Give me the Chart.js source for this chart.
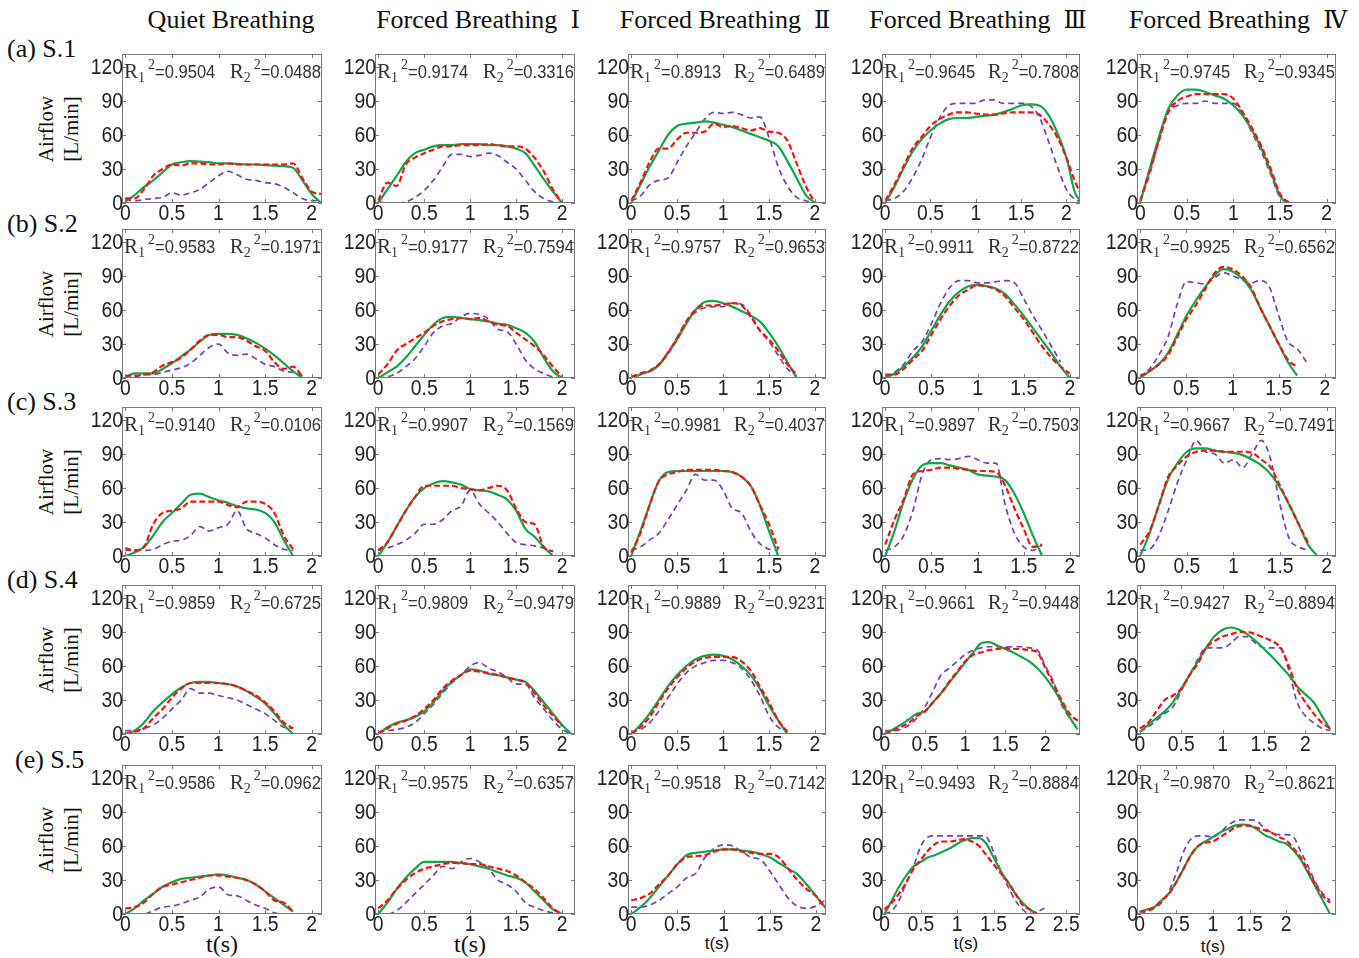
<!DOCTYPE html>
<html>
<head>
<meta charset="utf-8">
<script src="https://cdn.jsdelivr.net/npm/chart.js@4.4.1/dist/chart.umd.min.js"></script>
<style>
  body { margin: 0; background: #fff; width: 1359px; height: 958px; position: relative; overflow: hidden; }
  .lbl { position: absolute; white-space: nowrap; color: #111; font-family: 'Liberation Serif', 'Times New Roman', serif; transform: translate(-50%, -50%); }
  .rn { font-family: 'DejaVu Serif', serif; font-size: 24px; }
  canvas { position: absolute; }
</style>
</head>
<body>
<script>
// sampling step of every series (s)
const STEP = 0.1;

const columnTitles = ['Quiet Breathing', 'Forced Breathing', 'Forced Breathing', 'Forced Breathing', 'Forced Breathing'];
const columnNumerals = ['', '\u2160', '\u2161', '\u2162', '\u2163'];
const rowLabels = ['(a) S.1', '(b) S.2', '(c) S.3', '(d) S.4', '(e) S.5'];
const yTicks = [0, 30, 60, 90, 120];
const xTicksShort = [0, 0.5, 1, 1.5, 2];
const xTicksLong = [0, 0.5, 1, 1.5, 2, 2.5];

// x axis end per panel (rows S.1..S.5, columns quiet..FB IV)
const xMaxS1 = [2.11, 2.14, 2.12, 2.15, 2.1];
const xMaxS2 = [2.11, 2.14, 2.12, 2.11, 2.12];
const xMaxS3 = [2.11, 2.14, 2.12, 2.11, 2.1];
const xMaxS4 = [2.11, 2.14, 2.12, 2.43, 2.37];
const xMaxS5 = [2.11, 2.14, 2.11, 2.69, 2.68];

const r1S1 = ['0.9504', '0.9174', '0.8913', '0.9645', '0.9745'];
const r2S1 = ['0.0488', '0.3316', '0.6489', '0.7808', '0.9345'];
const r1S2 = ['0.9583', '0.9177', '0.9757', '0.9911', '0.9925'];
const r2S2 = ['0.1971', '0.7594', '0.9653', '0.8722', '0.6562'];
const r1S3 = ['0.9140', '0.9907', '0.9981', '0.9897', '0.9667'];
const r2S3 = ['0.0106', '0.1569', '0.4037', '0.7503', '0.7491'];
const r1S4 = ['0.9859', '0.9809', '0.9889', '0.9661', '0.9427'];
const r2S4 = ['0.6725', '0.9479', '0.9231', '0.9448', '0.8894'];
const r1S5 = ['0.9586', '0.9575', '0.9518', '0.9493', '0.9870'];
const r2S5 = ['0.0962', '0.6357', '0.7142', '0.8884', '0.8621'];

// green solid (reference airflow), one list per column, values every STEP seconds from t=0
const refS1 = [
  [1,7,14,20,27,34,36,37,36.5,36,35,35,34.5,34,34,33.5,33,32.5,31,20,8,0],
  [0,12,24,36,44,47,50,51,51,52,52,52,51,51,50,48,44,33,21,10,0],
  [0,16,32,46,60,68,70,71,72,71,69,67,64,61,58,55,50,37,22,7,0],
  [0,14,30,45,56,64,70,74,75,75,76,77,78,80,83,86,87,86,78,62,40,8,0],
  [0,30,58,83,95,100,100,98,95,92,86,77,64,48,28,6,0]
];
// red dashed
const estAS1 = [
  [4,4,12,24,30,34,33,35,35,34,34,35,34,34,34,34,34,34,35,22,10,8],
  [2,18,15,34,40,44,47,50,50,51,51,51,52,51,50,50,48,40,28,12,0],
  [2,18,36,48,48,56,62,62,63,70,67,68,66,64,66,63,62,55,35,15,0],
  [2,16,32,48,58,68,74,78,80,80,79,78,78,79,80,80,80,78,70,58,40,18,2],
  [2,28,55,80,90,94,96,96,96,96,92,80,66,50,30,8,0]
];
// purple dashed
const estBS1 = [
  [3,2,3,4,5,9,7,9,12,18,24,28,25,21,20,18,17,14,9,4,2,2],
  [1,0,0,1,5,11,20,32,43,43,41,42,44,42,36,30,20,10,4,1,0],
  [2,6,16,20,22,36,50,62,74,80,79,80,78,75,76,58,32,15,5,2,0],
  [2,4,10,22,38,58,75,86,88,88,88,91,91,88,88,88,86,76,55,32,12,3,1],
  [2,25,55,80,86,88,88,90,88,88,88,78,62,45,25,5,0]
];

const refS2 = [
  [1,4,4,4,8,13,19,25,32,38,39,39,38,35,31,26,20,13,6,0],
  [0,5,10,18,28,38,47,53,54,53,52,51,50,48,47,44,40,32,18,6,0],
  [0,3,6,11,22,34,48,60,67,68,66,63,59,55,50,40,28,14,0],
  [0,4,10,18,28,42,56,68,76,81,82,81,79,74,65,55,44,33,22,10,0],
  [0,6,12,22,38,55,68,80,90,96,94,88,78,62,46,30,14,2]
];
const estAS2 = [
  [2,2,3,5,11,14,18,25,33,38,38,36,36,33,28,24,14,8,10,1],
  [3,12,24,30,35,40,46,50,52,53,52,53,50,47,46,40,34,28,20,10,1],
  [1,4,6,12,22,35,50,60,64,64,65,66,64,54,42,34,24,12,3],
  [3,3,8,16,24,38,52,64,73,78,82,81,78,72,62,52,40,28,18,10,4],
  [2,6,12,20,36,52,64,78,92,98,96,90,80,62,46,30,16,10]
];
const estBS2 = [
  [0,1,3,3,5,7,9,13,20,27,30,22,20,21,17,12,10,6,5,2],
  [0,1,4,10,17,28,40,46,48,54,57,56,52,43,41,30,16,8,4,1,0],
  [1,4,7,12,23,36,50,58,62,63,63,66,65,56,42,32,20,8,2],
  [1,5,12,24,32,48,66,80,86,86,84,84,85,86,84,70,55,42,28,14],
  [0,8,20,36,65,85,84,83,88,93,90,87,84,86,80,55,32,26,14]
];

const refS3 = [
  [0,3,8,18,30,38,46,54,55,52,49,47,44,42,41,38,30,14,0],
  [0,12,26,40,52,60,64,66,65,63,59,58,57,54,50,40,24,17,8,0],
  [0,22,45,66,74,75,75,75,75,75,75,74,70,62,45,22,0],
  [0,22,48,68,80,82,82,80,78,76,72,71,70,67,55,38,18,0],
  [0,20,45,68,82,92,95,95,93,92,91,89,85,80,72,60,45,28,10,0]
];
const estAS3 = [
  [7,5,8,28,38,40,42,48,48,48,48,45,43,48,48,46,38,18,6],
  [5,12,26,40,52,62,62,62,62,60,59,58,60,62,58,42,30,28,8,4],
  [3,20,45,66,72,74,76,76,76,76,75,74,70,62,45,28,6],
  [10,32,50,72,75,76,78,78,77,76,75,75,74,62,42,24,8,10],
  [10,22,45,70,80,88,92,93,93,92,92,92,91,85,78,62,45,28,12]
];
const estBS3 = [
  [5,5,5,6,10,13,14,18,26,22,25,28,40,24,20,16,10,6,5],
  [5,7,10,14,20,28,28,32,40,44,58,46,38,30,20,12,10,9,7,4],
  [5,8,14,20,32,45,58,72,67,67,58,42,38,22,11,6,5],
  [5,8,18,40,72,85,86,85,86,88,85,82,82,45,20,8,5,10],
  [5,6,18,40,65,85,102,92,90,82,85,78,90,102,85,45,15,8,5]
];

const refS4 = [
  [0,3,10,20,28,35,41,45,46,46,45,44,42,38,33,27,18,8,0],
  [0,6,10,12,15,20,28,38,46,52,57,56,53,52,50,48,46,38,28,18,8,0],
  [0,8,18,30,42,52,60,66,69,70,69,66,60,52,40,25,12,0],
  [0,4,8,13,18,20,28,36,45,54,63,72,80,81,78,75,72,68,64,58,50,40,28,15,4],
  [2,8,14,20,28,40,52,64,76,86,92,94,92,88,82,75,68,60,52,42,35,28,16,4]
];
const estAS4 = [
  [0,2,5,14,22,32,40,45,45,45,45,44,42,38,34,28,20,10,5],
  [0,5,9,12,16,22,30,40,47,52,56,55,54,52,50,48,45,36,25,16,7],
  [0,6,15,28,40,50,58,64,67,68,68,68,64,56,42,28,12,2],
  [0,3,6,10,16,20,28,36,46,55,64,70,72,74,75,76,75,75,74,72,58,44,30,18,12,10],
  [5,10,20,30,34,40,52,62,76,82,86,88,90,90,88,85,82,76,60,40,28,18,10,5]
];
const estBS4 = [
  [3,3,5,8,14,22,30,40,36,36,34,32,30,26,22,18,12,6,5],
  [2,3,4,6,10,18,26,36,45,52,60,63,58,55,50,44,44,32,22,12,4,0],
  [2,4,10,20,32,44,54,60,63,65,65,63,58,48,34,16,6,3],
  [3,3,4,8,14,24,38,52,58,64,70,74,76,77,77,77,77,77,76,74,60,46,26,14,5],
  [2,6,12,18,24,38,52,66,76,76,76,80,86,86,80,76,76,76,56,28,16,10,5,3]
];

const refS5 = [
  [0,5,12,18,24,28,31,32,33,34,35,34,32,30,26,20,14,8,2],
  [0,10,22,32,40,46,46,46,46,45,44,42,40,37,34,32,28,20,12,4,0],
  [0,6,14,24,34,44,52,54,55,56,57,57,56,55,53,50,45,40,35,26,16,6],
  [0,12,24,34,42,46,50,52,55,58,62,65,67,67,62,50,38,28,18,10,4,0],
  [2,4,6,12,18,28,40,52,60,64,68,72,75,78,79,78,75,70,67,64,62,56,48,36,24,12,0]
];
const estAS5 = [
  [5,6,10,18,24,26,28,30,32,34,34,33,32,30,26,20,12,10,2],
  [5,12,22,30,36,40,42,44,45,45,44,44,42,40,38,34,28,22,14,5,0],
  [12,14,18,26,34,44,50,51,52,55,57,57,55,54,53,53,50,40,30,22,16,6,2],
  [4,10,18,28,40,48,56,62,64,64,65,66,64,60,52,44,36,28,18,8,4,0],
  [2,3,6,12,18,28,40,52,60,63,64,68,72,76,78,78,76,74,72,68,65,58,50,38,26,16,10]
];
const estBS5 = [
  [0,0,0,3,6,7,9,12,15,22,24,17,16,12,8,5,1,0,0],
  [0,0,3,10,18,26,34,42,40,46,49,46,40,30,26,20,10,6,3,1,0],
  [6,6,8,12,18,24,32,36,50,58,61,60,55,50,48,38,26,14,7,5,7,12],
  [0,3,12,28,42,60,68,69,69,69,69,69,69,69,68,55,38,24,12,4,0,2,5],
  [0,2,5,10,20,36,55,66,69,69,68,72,78,82,83,83,82,76,72,70,70,68,55,42,28,18,12]
];

const refRows = [refS1, refS2, refS3, refS4, refS5];
const estARows = [estAS1, estAS2, estAS3, estAS4, estAS5];
const estBRows = [estBS1, estBS2, estBS3, estBS4, estBS5];
const xMaxRows = [xMaxS1, xMaxS2, xMaxS3, xMaxS4, xMaxS5];
const r1Rows = [r1S1, r1S2, r1S3, r1S4, r1S5];
const r2Rows = [r2S1, r2S2, r2S3, r2S4, r2S5];

// page geometry
const colLeft = [122, 375, 628, 882, 1137];
const colWidth = [200, 200, 198, 198, 199];
const rowTop = [54, 229, 407, 585, 765];
const boxH = 149;
const Y_MAX = 131.5;
const YAXIS_W = 50, XAXIS_H = 32, PAD = 16;

const GREEN = '#12a64a', RED = '#ff1010', PURPLE = '#7440b4';
const SANS = "'Liberation Sans', Arial, sans-serif";
const SERIF = "'Liberation Serif', 'Times New Roman', serif";

function label(html, x, y, css) {
  const d = document.createElement('div');
  d.className = 'lbl';
  d.innerHTML = html;
  d.style.left = x + 'px';
  d.style.top = y + 'px';
  Object.assign(d.style, css || {});
  document.body.appendChild(d);
  return d;
}

function points(arr) {
  return arr.map((v, i) => ({ x: Math.round(i * STEP * 100) / 100, y: v }));
}

// text squeezed horizontally, like the narrow Helvetica of the original
function narrowText(ctx, text, x, y, sx, draw) {
  const w = ctx.measureText(text).width * sx;
  if (draw) {
    ctx.save();
    ctx.translate(x, y);
    ctx.scale(sx, 1);
    ctx.fillText(text, 0, 0);
    ctx.restore();
  }
  return w;
}

// R_1^2=..., drawn as R, subscript, superscript, value
function rText(ctx, x, base, sub, val, draw) {
  let w = 0;
  ctx.font = '21px ' + SERIF;
  if (draw) ctx.fillText('R', x + w, base);
  w += ctx.measureText('R').width;
  ctx.font = '14px ' + SERIF;
  if (draw) ctx.fillText(sub, x + w, base + 4);
  w += ctx.measureText(sub).width + 3;
  if (draw) ctx.fillText('2', x + w, base - 9);
  w += ctx.measureText('2').width;
  ctx.font = '18px ' + SANS;
  w += narrowText(ctx, '=' + val, x + w, base, 0.92, draw);
  return w;
}

const framePlugin = {
  id: 'frame',
  afterDraw(chart, args, opts) {
    const { ctx, chartArea: a, scales } = chart;
    ctx.save();
    ctx.strokeStyle = '#7a7a7a';
    ctx.lineWidth = 1;
    ctx.strokeRect(a.left + 0.5, a.top + 0.5, a.right - a.left - 1, a.bottom - a.top - 1);
    ctx.beginPath();
    scales.y.ticks.forEach(t => {
      const py = Math.round(scales.y.getPixelForValue(t.value)) + 0.5;
      ctx.moveTo(a.left, py); ctx.lineTo(a.left + 4, py);
      ctx.moveTo(a.right, py); ctx.lineTo(a.right - 4, py);
    });
    scales.x.ticks.forEach(t => {
      const px = Math.round(scales.x.getPixelForValue(t.value)) + 0.5;
      ctx.moveTo(px, a.bottom); ctx.lineTo(px, a.bottom - 4);
      ctx.moveTo(px, a.top); ctx.lineTo(px, a.top + 4);
    });
    ctx.stroke();

    // tick labels
    ctx.fillStyle = '#222';
    ctx.font = '22px ' + SANS;
    ctx.textBaseline = 'middle';
    ctx.textAlign = 'right';
    scales.y.ticks.forEach(t => narrowText(ctx, String(t.value), a.left + 1, scales.y.getPixelForValue(t.value) + 1, 0.88, true));
    ctx.textAlign = 'center';
    scales.x.ticks.forEach(t => narrowText(ctx, String(t.value), scales.x.getPixelForValue(t.value), a.bottom + 11, 0.88, true));

    // R^2 annotations
    ctx.fillStyle = '#333';
    ctx.textAlign = 'left';
    ctx.textBaseline = 'alphabetic';
    const base = a.top + 24;
    rText(ctx, a.left + 2, base, '1', opts.r1, true);
    const w2 = rText(ctx, 0, base, '2', opts.r2, false);
    rText(ctx, a.right - 1 - w2, base, '2', opts.r2, true);
    ctx.restore();
  }
};

function makePanel(r, c) {
  const left = colLeft[c], top = rowTop[r], w = colWidth[c];
  const cv = document.createElement('canvas');
  const cw = w + YAXIS_W + PAD, ch = boxH + PAD + XAXIS_H;
  cv.width = cw; cv.height = ch;
  cv.style.left = (left - YAXIS_W) + 'px';
  cv.style.top = (top - PAD) + 'px';
  cv.style.width = cw + 'px'; cv.style.height = ch + 'px';
  document.body.appendChild(cv);

  const xMax = xMaxRows[r][c];
  const xTicks = xMax > 2.6 && c === 3 ? xTicksLong : xTicksShort;

  new Chart(cv, {
    type: 'line',
    data: {
      datasets: [
        { data: points(estARows[r][c]), borderColor: RED, borderWidth: 2.2, borderDash: [6, 3] },
        { data: points(refRows[r][c]), borderColor: GREEN, borderWidth: 2.2 },
        { data: points(estBRows[r][c]), borderColor: PURPLE, borderWidth: 1.7, borderDash: [6, 4] }
      ]
    },
    options: {
      responsive: false,
      animation: false,
      events: [],
      layout: { padding: { top: PAD, right: PAD, left: 0, bottom: 0 } },
      elements: { point: { radius: 0 }, line: { cubicInterpolationMode: 'monotone', fill: false } },
      plugins: { legend: { display: false }, tooltip: { enabled: false }, frame: { r1: r1Rows[r][c], r2: r2Rows[r][c] } },
      scales: {
        x: {
          type: 'linear', min: -0.035, max: xMax,
          grid: { display: false }, border: { display: false },
          ticks: { display: false },
          afterBuildTicks: s => { s.ticks = xTicks.map(v => ({ value: v })); },
          afterFit: s => { s.height = XAXIS_H; }
        },
        y: {
          min: 0, max: Y_MAX,
          grid: { display: false }, border: { display: false },
          ticks: { display: false },
          afterBuildTicks: s => { s.ticks = yTicks.map(v => ({ value: v })); },
          afterFit: s => { s.width = YAXIS_W; }
        }
      }
    },
    plugins: [framePlugin]
  });
}

// titles and labels
const titleCenters = [231, 478, 725, 978, 1238];
columnTitles.forEach((t, c) => {
  const html = t + (columnNumerals[c] ? '&nbsp;&nbsp;<span class="rn">' + columnNumerals[c] + '</span>' : '');
  label(html, titleCenters[c], 20, { fontSize: '26px' });
});
rowLabels.forEach((t, r) => {
  const d = label(t, 0, rowTop[r] - 5, { fontSize: '26px', transform: 'translate(0, -50%)' });
  d.style.left = (r === 4 ? 15 : 7) + 'px';
});
rowTop.forEach(top => {
  const cy = top + boxH / 2;
  label('Airflow', 46, cy, { fontSize: '21px', transform: 'translate(-50%, -50%) rotate(-90deg)' });
  label('[L/min]', 71, cy, { fontSize: '21px', transform: 'translate(-50%, -50%) rotate(-90deg)' });
});
const tCenters = [222, 470, 717, 966, 1213];
tCenters.forEach((x, c) => {
  if (c < 2) label('t(s)', x, 944, { fontSize: '24px' });
  else label('t(s)', x, c === 4 ? 947 : 944, { fontSize: '17px', fontFamily: SANS });
});

for (let r = 0; r < 5; r++) for (let c = 0; c < 5; c++) makePanel(r, c);
</script>
</body>
</html>
